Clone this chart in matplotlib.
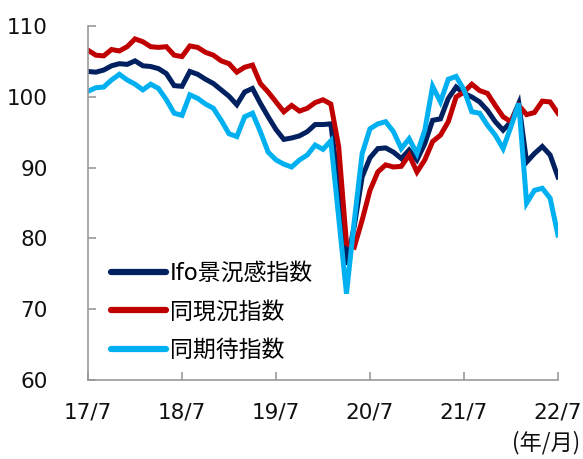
import matplotlib
matplotlib.use("Agg")
import matplotlib.pyplot as plt
import numpy as np

# 2017/7 - 2022/7, monthly
months = np.arange(61)
tick_pos = [0, 12, 24, 36, 48, 60]
tick_labels = ["17/7", "18/7", "19/7", "20/7", "21/7", "22/7"]

climate = [103.6, 103.5, 103.8, 104.4, 104.7, 104.6, 105.1, 104.4, 104.3, 104.0,
           103.3, 101.6, 101.5, 103.6, 103.2, 102.5, 101.9, 101.0, 100.1, 98.9,
           100.7, 101.2, 99.1, 97.2, 95.4, 94.0, 94.2, 94.5, 95.1, 96.1,
           96.1, 96.2, 87.5, 76.3, 81.8, 88.7, 91.4, 92.7, 92.8, 92.2,
           91.3, 92.5, 91.1, 93.4, 96.7, 96.9, 99.8, 101.4, 100.5, 100.0,
           99.3, 98.1, 96.5, 95.3, 96.5, 99.1, 90.8, 92.0, 93.0, 91.8, 88.7]

current = [106.6, 105.9, 105.8, 106.7, 106.5, 107.1, 108.2, 107.8, 107.1, 107.0,
           107.1, 105.9, 105.7, 107.2, 107.0, 106.3, 105.9, 105.1, 104.7, 103.5,
           104.2, 104.5, 101.9, 100.7, 99.3, 97.9, 98.8, 98.0, 98.4, 99.2,
           99.6, 99.0, 93.0, 79.3, 78.8, 82.6, 86.8, 89.4, 90.4, 90.1,
           90.2, 91.8, 89.4, 91.1, 93.7, 94.6, 96.5, 100.0, 100.7, 101.8,
           100.9, 100.5, 98.8, 97.2, 96.5, 98.8, 97.5, 97.8, 99.4, 99.3, 97.7]

expect = [100.8, 101.3, 101.4, 102.4, 103.2, 102.4, 101.8, 101.0, 101.8, 101.2,
          99.6, 97.7, 97.4, 100.3, 99.8, 99.0, 98.4, 96.7, 94.8, 94.4,
          97.2, 97.7, 95.1, 92.2, 91.1, 90.5, 90.1, 91.1, 91.8, 93.2,
          92.6, 93.8, 83.0, 72.2, 82.5, 92.0, 95.5, 96.2, 96.5, 95.1,
          92.7, 94.1, 92.0, 95.3, 101.5, 99.3, 102.5, 102.9, 101.0, 97.9,
          97.7, 96.0, 94.6, 92.7, 95.8, 99.1, 85.0, 86.8, 87.1, 85.7, 80.5]

labels = ["Ifo景況感指数", "同現況指数", "同期待指数"]
colors = ["#002060", "#C00000", "#00B0F0"]

plt.rcParams["font.family"] = ["DejaVu Sans", "Noto Sans CJK JP"]

fig = plt.figure(figsize=(5.83, 4.59), dpi=100)
ax = fig.add_axes([0.151, 0.172, 0.806, 0.771])

for vals, lab, col in zip([climate, current, expect], labels, colors):
    ax.plot(months, vals, color=col, lw=3.6, label=lab, solid_joinstyle="miter")

ax.set_xlim(0, 60)
ax.set_ylim(60, 110)
ax.set_yticks(range(60, 111, 10))
ax.set_xticks(tick_pos)
ax.set_xticklabels(tick_labels)

for s in ["top", "right"]:
    ax.spines[s].set_visible(False)
for s in ["left", "bottom"]:
    ax.spines[s].set_color("#999999")
    ax.spines[s].set_linewidth(1.2)
ax.tick_params(direction="in", length=6, width=1.2, color="#999999",
               labelsize=15.5, labelcolor="#111111")
ax.tick_params(axis="x", pad=16)
ax.tick_params(axis="y", pad=29)

leg = ax.legend(loc="upper left", bbox_to_anchor=(0.049, 0.334), frameon=False,
                fontsize=16.5, handlelength=2.4, handletextpad=0.18,
                labelspacing=0.68, borderpad=0, borderaxespad=0)
for line in leg.get_lines():
    line.set_linewidth(4.5)
    line.set_solid_capstyle("round")

fig.text(0.995, 0.01, "(年/月)", ha="right", va="bottom", fontsize=16,
         family=["Noto Sans CJK JP", "DejaVu Sans"], color="#111111")

fig.savefig("out.png", dpi=100)
